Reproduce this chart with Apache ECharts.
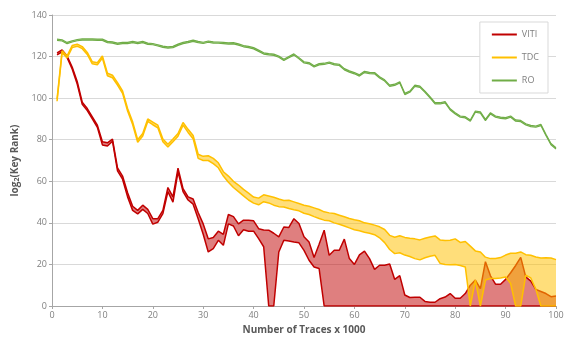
<!DOCTYPE html>
<html><head><meta charset="utf-8">
<script src="https://cdn.jsdelivr.net/npm/echarts@6/dist/echarts.min.js"></script>
<style>html,body{margin:0;padding:0;background:#fff}#c{width:574px;height:345px}</style>
</head><body><div id="c"></div>
<script>
const xs = [1,2,3,4,5,6,7,8,9,10,11,12,13,14,15,16,17,18,19,20,
21,22,23,24,25,26,27,28,29,30,31,32,33,34,35,36,37,38,39,40,
41,42,43,44,45,46,47,48,49,50,51,52,53,54,55,56,57,58,59,60,
61,62,63,64,65,66,67,68,69,70,71,72,73,74,75,76,77,78,79,80,
81,82,83,84,85,86,87,88,89,90,91,92,93,94,95,96,97,98,99,100];

const seriesNames = ['VITI','TDC','RO'];

const vitiHi = [121.8,123.2,120.3,115,108,98,95,91,87,79,
78.5,80.3,66.5,62.5,54.5,48,46,48.5,46.5,42,
42,46,57,52.5,66.3,56.5,52.5,51.5,45,39.5,
32.3,33,36,34.5,44,43,39.5,41.3,41.3,41,
37.2,36.6,36.5,35,33.3,38,37.8,42,39.7,33.3,
30.8,23.3,29.7,36.5,24.4,26.8,26.8,32.2,22.8,20,
24.6,26.4,22.8,17.6,19.6,19.6,20.2,12.8,14.6,5.3,
4.1,4.2,4.2,2.2,1.8,1.8,3.5,4.3,6,3.7,
3.7,6,10,12.5,8.4,21.3,14.5,10.5,10.5,12.8,
16,19.5,23.4,14,12,8,7,6,4.5,4.8];

const vitiLo = [120.8,122.3,119.5,114,106.8,97,94,90,86,77.5,
77,79.3,65,61,52.5,46,44.3,46.5,44.5,39.4,
40.3,44.5,55,50,64.5,55,51,49,42,34.5,
26,27.6,31.6,29.2,39.5,38.5,33.8,36.7,36,36,
32.4,28.5,0,0,26,31.6,31.3,30.8,30.4,26.8,
22,18.8,18,0,0,0,0,0,0,0,
0,0,0,0,0,0,0,0,0,0,
0,0,0,0,0,0,0,0,0,0,
0,0,0,0,0,0,0,0,0,0,
0,0,0,0,0,0,0,0,0,0];

const tdcHi = [99.5,122.8,120.3,125.3,126,124.8,122,117.5,117,120.3,
112,111,107.5,103.5,95,88.6,80,83,90,88.5,
87,80.3,77.8,80.3,83,88.3,85,82,73,72,
72.3,71,68.9,64.6,62.5,60,58.2,56.1,54.3,52.4,
51.9,53.5,52.9,52.3,51.5,50.8,50.9,50.1,49.3,48.5,
48,47.2,46.4,45.3,44.8,44.5,43.7,42.9,42.1,41.5,
41,40,39.6,38.9,38.1,36.8,34,33.1,33.8,33,
32.6,32.3,31.8,32.6,33.2,33.7,31.8,31.5,31.6,32.3,
30.6,31,28.8,26.5,26,23.5,22.8,22.8,23.3,24.5,
25.4,25.4,26,24.7,24.4,23.6,23.1,23.2,23.1,22.3];

const tdcLo = [98.5,121.8,119.3,124.3,125,123.8,121,116.5,116,119.3,
110.8,109.8,106.3,102.3,93.8,87.3,78.8,81.8,88.8,87.2,
85.7,79,76.5,79,81.7,87,83.5,80.5,71,70,
70,68.5,66.5,62.5,59.5,57,55,53,51,49.5,
48.7,50.2,49.6,48.5,47.8,47.6,46.9,46.3,45.8,44.6,
44,43,42.1,41.3,41,40,39.3,38.5,37.6,36.7,
36.2,35.5,35,34.3,32.8,30.5,27.2,25.2,25.6,24.5,
23.8,22.8,22.2,23.2,23.9,24.4,20.5,20,19.8,20,
19.5,18.8,0,12.5,0,12.5,13.2,13.2,13.5,14,
10.8,0,0,14.8,13.5,8,0,0,0,0];

const roHi = [128.4,128.1,126.8,127.6,128.2,128.5,128.5,128.5,128.4,128.4,
127.3,127.1,126.5,126.8,126.8,127.3,126.8,127.3,126.5,126.3,
125.7,125.0,124.7,124.9,126.0,126.8,127.3,127.9,127.3,126.9,
127.5,127.1,127.0,126.8,126.6,126.7,126.1,125.3,124.9,124.3,
123.1,121.8,121.4,121.2,120.3,118.7,120.0,121.3,119.5,117.5,
117.1,115.6,116.6,116.8,117.4,116.6,116.3,114.2,113.1,112.3,
111.2,112.9,112.4,112.3,110.3,108.8,106.3,106.7,107.9,102.3,
103.4,106.3,105.8,103.4,100.7,97.8,97.8,98.3,94.9,93.0,
91.4,91.1,89.5,93.8,93.4,89.8,93.0,91.4,90.9,90.6,
91.4,89.5,89.3,87.7,86.9,86.6,87.4,82.6,78.2,76.1];

const roLo = [127.8,127.5,126.2,127.0,127.6,127.9,127.9,127.9,127.8,127.8,
126.7,126.5,125.9,126.2,126.2,126.7,126.2,126.7,125.9,125.7,
125.1,124.4,124.1,124.3,125.4,126.2,126.7,127.3,126.7,126.3,
126.9,126.5,126.4,126.2,126.0,126.1,125.5,124.7,124.3,123.7,
122.5,121.2,120.8,120.6,119.7,118.1,119.4,120.7,118.9,116.9,
116.5,115.0,116.0,116.2,116.8,116.0,115.7,113.6,112.5,111.7,
110.6,112.3,111.8,111.7,109.7,108.2,105.7,106.1,107.3,101.7,
102.8,105.7,105.2,102.8,100.1,97.2,97.2,97.7,94.3,92.4,
90.8,90.5,88.9,93.2,92.8,89.2,92.4,90.8,90.3,90.0,
90.8,88.9,88.7,87.1,86.3,86.0,86.8,82.0,77.6,75.5];

const FONT = 'Open Sans';

function fillSeries(lo, hi, color, z) {
  return {
    type: 'custom', coordinateSystem: 'cartesian2d', silent: true, z: z, clip: true,
    data: [[xs[0], lo[0]]],
    renderItem: function (params, api) {
      const pts = [];
      for (let i = 0; i < xs.length; i++) pts.push(api.coord([xs[i], hi[i]]));
      for (let i = xs.length - 1; i >= 0; i--) pts.push(api.coord([xs[i], lo[i]]));
      return { type: 'polygon', shape: { points: pts }, style: { fill: color } };
    }
  };
}
function lineSeries(name, vals, color, width, z) {
  return {
    name: name, type: 'line', symbol: 'none', showSymbol: false, silent: true, z: z,
    data: xs.map(function (x, i) { return [x, vals[i]]; }),
    lineStyle: { color: color, width: width },
    itemStyle: { color: color }
  };
}

const series = [
  fillSeries(vitiLo, vitiHi, 'rgba(192,0,0,0.5)', 1),
  lineSeries('VITI lower', vitiLo, '#C00000', 1.5, 2),
  lineSeries('VITI', vitiHi, '#C00000', 1.5, 2),
  fillSeries(tdcLo, tdcHi, 'rgba(255,192,0,0.52)', 3),
  lineSeries('TDC lower', tdcLo, '#FFC000', 1.5, 4),
  lineSeries('TDC', tdcHi, '#FFC000', 1.5, 4),
  fillSeries(roLo, roHi, 'rgba(112,173,71,0.5)', 5),
  lineSeries('RO lower', roLo, '#70AD47', 1.2, 6),
  lineSeries('RO', roHi, '#70AD47', 1.2, 6)
];

const chart = echarts.init(document.getElementById('c'), null, { renderer: 'canvas' });
chart.setOption({
  animation: false,
  backgroundColor: '#ffffff',
  textStyle: { fontFamily: FONT },
  grid: { left: 52, right: 18, top: 15, bottom: 39, containLabel: false },
  legend: {
    data: seriesNames, orient: 'vertical', right: 26, top: 22,
    icon: 'rect', itemWidth: 25, itemHeight: 2, itemGap: 14,
    padding: [8, 9, 8, 12],
    backgroundColor: '#ffffff', borderColor: '#D9D9D9', borderWidth: 1,
    textStyle: { fontSize: 9, color: '#7F7F7F', fontFamily: FONT }
  },
  xAxis: {
    type: 'value', min: 0, max: 100, interval: 10,
    name: 'Number of Traces x 1000', nameLocation: 'middle', nameGap: 17,
    nameTextStyle: { fontWeight: 'bold', fontSize: 10, color: '#595959', fontFamily: FONT },
    axisLine: { show: true, onZero: true, lineStyle: { color: '#A6A6A6', width: 1 } },
    axisTick: { show: true, length: 3, lineStyle: { color: '#A6A6A6' } },
    axisLabel: { fontSize: 9, color: '#7F7F7F', margin: 5, fontFamily: FONT },
    splitLine: { show: false }
  },
  yAxis: {
    type: 'value', min: 0, max: 140, interval: 20,
    name: 'log{s|2}(Key Rank)', nameLocation: 'middle', nameGap: 28, nameRotate: 90,
    nameTextStyle: { fontWeight: 'bold', fontSize: 10, color: '#595959', fontFamily: FONT,
      rich: { s: { fontSize: 7, fontWeight: 'bold', color: '#595959', fontFamily: FONT, verticalAlign: 'bottom', padding: [4, 0, 0, 0] } } },
    axisLine: { show: true, lineStyle: { color: '#A6A6A6', width: 1 } },
    axisTick: { show: true, length: 3, lineStyle: { color: '#A6A6A6' } },
    axisLabel: { fontSize: 9, color: '#7F7F7F', margin: 5, fontFamily: FONT },
    splitLine: { show: true, lineStyle: { color: '#D9D9D9', width: 1 } }
  },
  series: series
});
</script></body></html>
